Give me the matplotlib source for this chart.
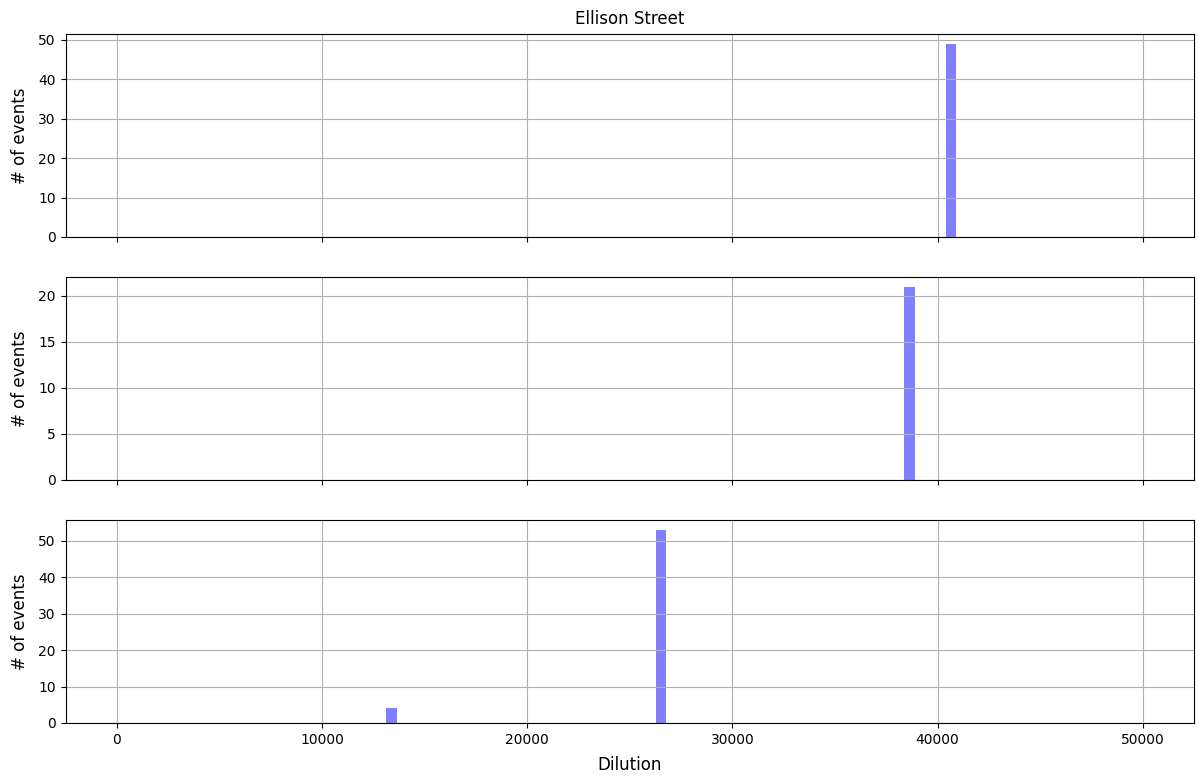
import numpy as np
import matplotlib
matplotlib.use("Agg")
import matplotlib.pyplot as plt

# Bin edges used for the histograms (0 .. 50000, 100 edges)
bin_lo = 0
bin_hi = 50000
n_edges = 100

# Each panel: representative dilution values and their event counts
panel1_values = [40600]
panel1_counts = [49]
panel2_values = [38600]
panel2_counts = [21]
panel3_values = [13400, 26500]
panel3_counts = [4, 53]

title = "Ellison Street"
xlabel = "Dilution"
ylabel = "# of events"

bins = np.linspace(bin_lo, bin_hi, n_edges)

fig, axes = plt.subplots(3, 1, figsize=(11.98, 7.76), dpi=100, sharex=True)
fig.subplots_adjust(left=0.0548, right=0.9967, top=0.9562, bottom=0.0683, hspace=0.197)

panels = [(panel1_values, panel1_counts), (panel2_values, panel2_counts), (panel3_values, panel3_counts)]
for ax, (vals, cnts) in zip(axes, panels):
    ax.hist(vals, bins=bins, weights=cnts, color="blue", alpha=0.5)
    ax.set_ylabel(ylabel, fontsize=12, labelpad=7)
    ax.grid(True)
    ax.tick_params(labelsize=10)

axes[0].set_title(title, fontsize=12, pad=7)
axes[-1].set_xlabel(xlabel, fontsize=12, labelpad=7)

fig.savefig("out.png", dpi=100)
